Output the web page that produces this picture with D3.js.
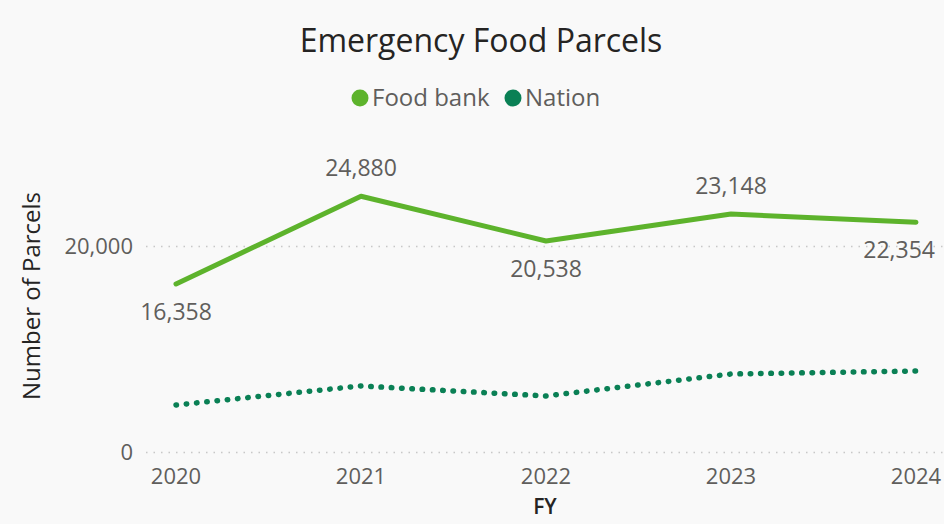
<!DOCTYPE html>
<html>
<head>
  <meta charset="utf-8">
  <title>Emergency Food Parcels</title>
  <script src="https://d3js.org/d3.v7.min.js"></script>
  <style>
    body { margin: 0; background: #f9f9f9; }
    svg { display: block; font-family: "Open Sans", "Noto Sans", sans-serif; }
    .grid line { stroke: #c8c8c8; stroke-width: 1.5; stroke-dasharray: 1.5 6; }
    .axis text { fill: #605e5c; font-size: 22px; }
  </style>
</head>
<body>
<div id="chart"></div>
<script>
  const years = ["2020", "2021", "2022", "2023", "2024"];
  const foodBank = [16358, 24880, 20538, 23148, 22354];
  const nation = [4610, 6460, 5490, 7620, 7910];
  const yTicks = [0, 20000];

  const width = 944, height = 524;

  const svg = d3.select("#chart").append("svg")
    .attr("width", width)
    .attr("height", height);

  const x = d3.scalePoint().domain(years).range([176, 916]);
  const y = d3.scaleLinear().domain([0, 20000]).range([452.5, 246.5]);

  // gridlines
  svg.append("g").attr("class", "grid")
    .selectAll("line").data(yTicks).join("line")
    .attr("x1", 146).attr("x2", width)
    .attr("y1", d => y(d)).attr("y2", d => y(d));

  // y axis labels
  svg.append("g").attr("class", "axis")
    .selectAll("text").data(yTicks).join("text")
    .attr("x", 133).attr("y", d => y(d))
    .attr("dy", "0.35em")
    .attr("text-anchor", "end")
    .attr("font-size", 23)
    .text(d3.format(","));

  // x axis labels
  svg.append("g").attr("class", "axis")
    .selectAll("text").data(years).join("text")
    .attr("x", d => x(d))
    .attr("y", 476)
    .attr("dy", "0.35em")
    .attr("text-anchor", "middle")
    .text(d => d);

  svg.append("text")
    .attr("x", 545).attr("y", 507)
    .attr("text-anchor", "middle")
    .attr("dy", "0.35em")
    .attr("fill", "#252423").attr("font-size", 21).attr("font-weight", 600)
    .text("FY");

  svg.append("text")
    .attr("transform", "translate(32,296) rotate(-90)")
    .attr("text-anchor", "middle")
    .attr("dy", "0.35em")
    .attr("fill", "#252423").attr("font-size", 24)
    .text("Number of Parcels");

  const line = d3.line().x((d, i) => x(years[i])).y(d => y(d));

  svg.append("path")
    .datum(nation)
    .attr("fill", "none")
    .attr("stroke", "#0a8055")
    .attr("stroke-width", 5.5)
    .attr("stroke-linecap", "round")
    .attr("stroke-dasharray", "0.5 9.8")
    .attr("d", line);

  svg.append("path")
    .datum(foodBank)
    .attr("fill", "none")
    .attr("stroke", "#5db32c")
    .attr("stroke-width", 5)
    .attr("stroke-linejoin", "round")
    .attr("stroke-linecap", "round")
    .attr("d", line);

  // data labels: above for peaks, below otherwise
  const above = [false, true, false, true, false];
  svg.append("g")
    .selectAll("text").data(foodBank).join("text")
    .attr("x", (d, i) => i === foodBank.length - 1 ? x(years[i]) + 19 : x(years[i]))
    .attr("y", (d, i) => y(d) + (above[i] ? -28 : 28))
    .attr("dy", "0.35em")
    .attr("text-anchor", (d, i) => i === foodBank.length - 1 ? "end" : "middle")
    .attr("fill", "#605e5c").attr("font-size", 23)
    .text(d3.format(","));

  // title
  svg.append("text")
    .attr("x", 481).attr("y", 52)
    .attr("text-anchor", "middle")
    .attr("fill", "#252423").attr("font-size", 32)
    .text("Emergency Food Parcels");

  // legend
  const legend = [
    { name: "Food bank", color: "#5db32c", x: 360 },
    { name: "Nation", color: "#0a8055", x: 513 }
  ];
  const lg = svg.append("g").selectAll("g").data(legend).join("g")
    .attr("transform", d => `translate(${d.x},98)`);
  lg.append("circle").attr("r", 8.5).attr("fill", d => d.color);
  lg.append("text")
    .attr("x", 12).attr("dy", "0.35em")
    .attr("fill", "#605e5c").attr("font-size", 24)
    .text(d => d.name);
</script>
</body>
</html>
